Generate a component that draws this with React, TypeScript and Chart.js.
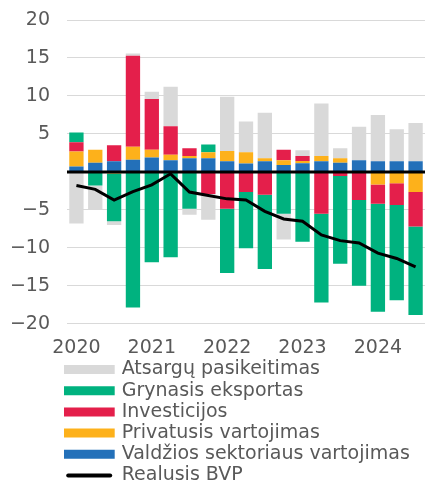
import React, { useEffect, useRef } from "react";
import { Chart, registerables } from "chart.js";

Chart.register(...registerables);

const categories = [
  "2020 I", "2020 II", "2020 III", "2020 IV",
  "2021 I", "2021 II", "2021 III", "2021 IV",
  "2022 I", "2022 II", "2022 III", "2022 IV",
  "2023 I", "2023 II", "2023 III", "2023 IV",
  "2024 I", "2024 II", "2024 III",
];

const yearTicks = [
  "2020", "", "", "",
  "2021", "", "", "",
  "2022", "", "", "",
  "2023", "", "", "",
  "2024", "", "",
];

const valdziosVartojimas = [0.7, 1.2, 1.4, 1.6, 1.9, 1.55, 1.8, 1.8, 1.4, 1.1, 1.4, 0.9, 1.15, 1.4, 1.2, 1.55, 1.4, 1.4, 1.4];
const privatusisVartojimas = [2.0, 1.7, -0.2, 1.7, 1.0, 0.7, 0.3, 0.8, 1.35, 1.5, 0.4, 0.65, 0.3, 0.7, 0.6, 0, -1.65, -1.5, -2.65];
const investicijos = [1.2, 0, 2.1, 12.0, 6.7, 3.75, 1.0, -2.9, -4.85, -2.65, -3.0, 1.35, 0.65, -5.5, -0.55, -3.7, -2.55, -2.85, -4.55];
const grynasisEksportas = [1.3, -1.8, -6.3, -17.85, -11.9, -11.25, -4.85, 1.0, -8.45, -7.4, -9.8, -5.5, -9.2, -11.7, -11.55, -11.3, -14.2, -12.55, -11.65];
const atsarguPasikeitimas = [-6.8, -3.1, -0.5, 0.3, 0.95, 5.2, -0.8, -3.4, 7.15, 4.05, 6.0, -3.4, 0.75, 6.9, 1.3, 4.4, 6.1, 4.2, 5.05];
const realusisBVP = [-1.8, -2.3, -3.7, -2.6, -1.7, -0.25, -2.65, -3.1, -3.55, -3.7, -5.2, -6.2, -6.5, -8.3, -9.05, -9.35, -10.7, -11.4, -12.5];

const FONT = "'DejaVu Sans', Verdana, sans-serif";
const TEXT = "#595959";
const FS = 19;

const zeroLinePlugin = {
  id: "zeroLine",
  beforeDatasetDraw(chart: any, args: any) {
    if (args.index !== 0) return;
    const y = chart.scales.y.getPixelForValue(0);
    const { left, right } = chart.chartArea;
    const ctx = chart.ctx;
    ctx.save();
    ctx.strokeStyle = "#000000";
    ctx.lineWidth = 3;
    ctx.beginPath();
    ctx.moveTo(left, y);
    ctx.lineTo(right, y);
    ctx.stroke();
    ctx.restore();
  },
};

const legendShiftPlugin = {
  id: "legendShift",
  afterLayout(chart: any) {
    if (chart.legend) {
      chart.legend.left -= 3;
      chart.legend.right -= 3;
    }
  },
};

export default function App() {
  const ref = useRef<HTMLCanvasElement | null>(null);

  useEffect(() => {
    if (!ref.current) return;
    const bar = (label: string, data: number[], color: string) => ({
      type: "bar" as const,
      label,
      data,
      backgroundColor: color,
      borderWidth: 0,
      barPercentage: 0.76,
      categoryPercentage: 1,
    });
    const chart = new Chart(ref.current, {
      type: "bar",
      data: {
        labels: categories,
        datasets: [
          {
            type: "line" as const,
            label: "Realusis BVP",
            data: realusisBVP,
            borderColor: "#000000",
            backgroundColor: "#000000",
            borderWidth: 3,
            pointRadius: 0,
            tension: 0,
            fill: false,
          } as any,
          bar("Valdžios sektoriaus vartojimas", valdziosVartojimas, "#2370b9"),
          bar("Privatusis vartojimas", privatusisVartojimas, "#fdb11b"),
          bar("Investicijos", investicijos, "#e41f4b"),
          bar("Grynasis eksportas", grynasisEksportas, "#00b27f"),
          bar("Atsargų pasikeitimas", atsarguPasikeitimas, "#d9d9d9"),
        ],
      },
      options: {
        animation: false,
        responsive: true,
        maintainAspectRatio: false,
        layout: { padding: { left: 10, top: 20, right: 0, bottom: -12 } },
        scales: {
          x: {
            stacked: true,
            grid: { display: false, drawTicks: false },
            border: { display: false },
            ticks: {
              autoSkip: false,
              maxRotation: 0,
              padding: 13,
              color: TEXT,
              font: { family: FONT, size: FS },
              callback: (_v: any, i: number) => yearTicks[i],
            },
            afterFit: (s: any) => {
              s.height = 34;
              s.paddingLeft = 0;
              s.paddingRight = 0;
            },
          },
          y: {
            stacked: true,
            min: -20,
            max: 20,
            grid: { color: "#d9d9d9", lineWidth: 1, drawTicks: false },
            border: { display: false },
            ticks: {
              stepSize: 5,
              padding: 17,
              color: TEXT,
              font: { family: FONT, size: FS },
              callback: (v: any) => {
                const n = Number(v);
                if (n === 0) return "";
                return n < 0 ? "\u2212" + Math.abs(n) : String(n);
              },
            },
            afterFit: (s: any) => {
              s.width = 57;
              s.paddingTop = 0;
              s.paddingBottom = 0;
            },
          },
        },
        plugins: {
          tooltip: { enabled: false },
          legend: {
            position: "bottom",
            align: "start",
            fullSize: false,
            labels: {
              boxWidth: 46,
              boxHeight: 4,
              padding: 2.2,
              color: TEXT,
              font: { family: FONT, size: FS },
              sort: (a: any, b: any) => {
                const r = (it: any) => (it.datasetIndex === 0 ? 99 : -it.datasetIndex);
                return r(a) - r(b);
              },
              generateLabels: (c: any) => {
                const items = (Chart.defaults.plugins.legend.labels as any).generateLabels(c);
                return items.map((it: any) => {
                  if (it.datasetIndex === 0) {
                    return { ...it, fillStyle: "#000000", strokeStyle: "#000000", lineWidth: 0, lineDash: [], borderRadius: 2 };
                  }
                  return { ...it, strokeStyle: it.fillStyle, lineWidth: 5, borderRadius: 0 };
                });
              },
            },
          },
        },
      },
      plugins: [zeroLinePlugin, legendShiftPlugin],
    } as any);
    return () => chart.destroy();
  }, []);

  return (
    <div style={{ position: "absolute", left: 0, top: 0, width: 425, height: 483 }}>
      <canvas ref={ref} />
    </div>
  );
}
